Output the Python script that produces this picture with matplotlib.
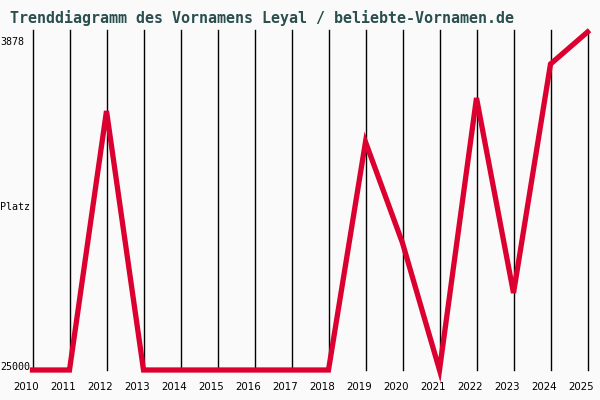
import matplotlib
matplotlib.use("Agg")
import matplotlib.pyplot as plt

# data (rank, lower is better)
years = [2010, 2011, 2012, 2013, 2014, 2015, 2016, 2017,
         2018, 2019, 2020, 2021, 2022, 2023, 2024, 2025]
ranks = [25000, 25000, 8815, 25000, 25000, 25000, 25000, 25000,
         25000, 10750, 17060, 25000, 8000, 20190, 5880, 3878]

best_rank = 3878
worst_rank = 25000
title = "Trenddiagramm des Vornamens Leyal / beliebte-Vornamen.de"

W, H = 600, 400
fig = plt.figure(figsize=(6, 4), dpi=100)
fig.patch.set_facecolor("#fafafa")

# plot area in pixels: x 32.5..587.5, y 30..370
left, right, top, bottom = 32.5, 587.5, 30, 370
ax = fig.add_axes([left / W, 1 - bottom / H, (right - left) / W, (bottom - top) / H])
ax.set_facecolor("#fafafa")
for s in ax.spines.values():
    s.set_visible(False)

px = (worst_rank - best_rank) / (370 - 32)
ax.set_xlim(years[0], years[-1])
ax.set_ylim(worst_rank, best_rank - 2 * px)

for yr in years:
    ax.axvline(yr, color="black", linewidth=1.0, zorder=1, clip_on=False)

ax.plot(years, ranks, color="#dc0030", linewidth=3.8, zorder=3,
        clip_on=False, solid_joinstyle="miter")

ax.set_xticks([])
ax.set_yticks([])

# year labels, slightly left of the grid lines
for yr in years:
    ax.annotate(str(yr), xy=(yr, 0), xycoords=("data", "axes fraction"),
                xytext=(-6, -17), textcoords="offset pixels",
                ha="center", va="center", fontsize=7.4, color="black")

mono = "DejaVu Sans Mono"
fig.text(0, 1 - 42 / H, str(best_rank), family=mono, fontsize=7.2, ha="left", va="center")
fig.text(0, 1 - 207 / H, "Platz", family=mono, fontsize=7.2, ha="left", va="center")
fig.text(0, 1 - 367 / H, str(worst_rank), family=mono, fontsize=7.2, ha="left", va="center")

fig.text(10 / W, 1 - 18 / H, title, family=mono, fontsize=10.8,
         fontweight="bold", color="#2b4f4f", ha="left", va="center")

fig.savefig("out.png", dpi=100, facecolor=fig.get_facecolor())
